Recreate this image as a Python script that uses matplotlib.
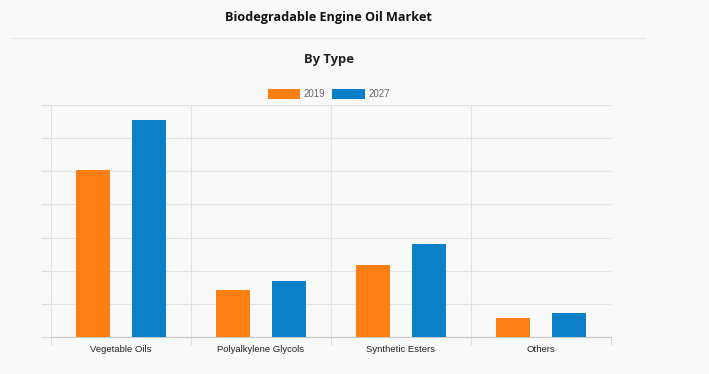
import matplotlib
matplotlib.use("Agg")
import matplotlib.pyplot as plt
from matplotlib.patches import Patch
import numpy as np

categories = ["Vegetable Oils", "Polyalkylene Glycols", "Synthetic Esters", "Others"]
series_names = ["2019", "2027"]
values_2019 = [5.05, 1.42, 2.17, 0.57]
values_2027 = [6.54, 1.69, 2.80, 0.72]
colors = ["#fd7f13", "#0b80c8"]

bg = "#f9f9f9"
fig = plt.figure(figsize=(7.09, 3.74), dpi=100, facecolor=bg)
ax = fig.add_axes([51/709, 1-337/374, 560/709, 232/374])
ax.set_facecolor(bg)

x = np.arange(len(categories))
w = 0.24
ax.bar(x - 0.2, values_2019, w, color=colors[0], zorder=3)
ax.bar(x + 0.2, values_2027, w, color=colors[1], zorder=3)

ax.set_xlim(-0.5, len(categories) - 0.5)
ax.set_ylim(0, 7)
ax.set_yticks(np.arange(0, 8))
ax.set_yticklabels([])
ax.set_xticks(np.arange(len(categories) + 1) - 0.5)
ax.set_xticklabels([])
ax.set_xticks(x, minor=True)
ax.set_xticklabels(categories, minor=True, fontsize=6.8, family="Liberation Sans", color="#222222")
ax.tick_params(axis="x", which="minor", length=0, pad=6)
ax.tick_params(axis="x", which="major", length=6, color="#dddddd")
ax.tick_params(axis="y", length=7, color="#dddddd")
ax.grid(True, which="major", color="#e3e3e3", linewidth=0.8, zorder=0)
for s in ["top", "right", "left"]:
    ax.spines[s].set_visible(False)
ax.spines["bottom"].set_color("#c8c8c8")

fig.text(328/709, 1-17/374, "Biodegradable Engine Oil Market", ha="center", va="center",
         fontsize=9.1, fontweight="bold", family="Open Sans", color="#111111")
fig.add_artist(plt.Line2D([12/709, 645/709], [1-38/374, 1-38/374], color="#e6e6e6", linewidth=0.8))
fig.text(329/709, 1-60/374, "By Type", ha="center", va="center",
         fontsize=9.4, fontweight="bold", family="Open Sans", color="#222222")

handles = [Patch(facecolor=colors[0]), Patch(facecolor=colors[1])]
fig.legend(handles, series_names, loc="center", bbox_to_anchor=(329/709, 1-94/374), ncol=2,
           frameon=False, prop={"family": "Liberation Sans", "size": 7},
           labelcolor="#666666", handlelength=3.3, handleheight=1.15,
           handletextpad=0.4, columnspacing=0.7, borderpad=0)

fig.savefig("out.png", dpi=100, facecolor=bg)
